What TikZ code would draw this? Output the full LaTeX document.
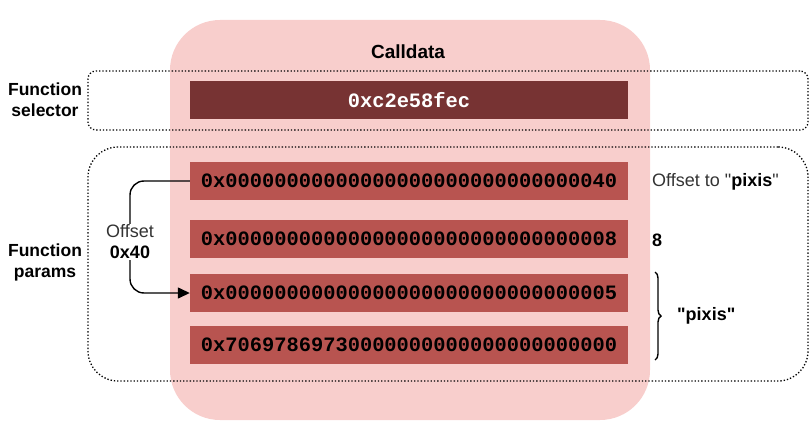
\documentclass[tikz,border=0pt]{standalone}
\usepackage{fontspec}
\setmainfont{Liberation Sans}
\newfontfamily\hexfont{Liberation Mono}
\usetikzlibrary{arrows.meta,decorations.pathreplacing}
\definecolor{calldatafill}{HTML}{F8CECC}
\definecolor{wordfill}{HTML}{B85450}
\definecolor{selfill}{HTML}{773333}
\definecolor{txtgray}{HTML}{333333}
\begin{document}
\begin{tikzpicture}[x=1pt,y=-1pt,
  word/.style={fill=wordfill, minimum width=438pt, minimum height=38pt, inner sep=0pt,
    font=\hexfont\bfseries\fontsize{20.4}{22}\selectfont},
  groupbox/.style={draw, dotted, line width=1.3pt},
  lbl/.style={font=\fontsize{17.5}{21}\selectfont\bfseries, align=center, inner sep=0pt},
  note/.style={font=\fontsize{18}{21}\selectfont, anchor=west, inner sep=0pt},
  conn/.style={line width=1.4pt, rounded corners=14pt, -{Triangle[length=12pt,width=11pt]}}
]
\useasboundingbox (0,0) rectangle (810,422);
% calldata background
\node[fill=calldatafill, rounded corners=50pt, minimum width=480pt, minimum height=400pt, inner sep=0pt] (calldata) at (410,220) {};
\node[font=\fontsize{19}{22}\selectfont\bfseries] (title) at (408,52) {Calldata};
% groups
\node[groupbox, rounded corners=8pt, minimum width=720pt, minimum height=59pt, inner sep=0pt] (selbox) at (448,100.5) {};
\node[groupbox, rounded corners=30pt, minimum width=720pt, minimum height=234pt, inner sep=0pt] (parbox) at (448,264) {};
\node[lbl] (sellbl) at (45,100) {Function\\selector};
\node[lbl] (parlbl) at (45,262) {Function\\params};
% selector
\node[word, fill=selfill, text=white] (sel) at (409,100.5) {0xc2e58fec};
% words
\node[word] (w1) at (409,181) {0x000000000000000000000000000000{}40};
\node[word] (w2) at (409,238.5) {0x000000000000000000000000000000{}08};
\node[word] (w3) at (409,293) {0x000000000000000000000000000000{}05};
\node[word] (w4) at (409,345) {0x7069786973{}0000000000000000000000};
% notes
\node[note, text=txtgray] (n1) at (652,182) {Offset to \textquotedbl\textcolor{black}{\bfseries pixis}\textquotedbl};
\node[note, font=\fontsize{18}{21}\selectfont\bfseries] (n2) at (652,240) {8};
% brace
\coordinate (btop) at (655,272);
\coordinate (bbot) at (655,360);
\draw[line width=1.4pt, decorate, decoration={brace, amplitude=6pt}] (btop) -- (bbot);
\node[note, font=\fontsize{18}{21}\selectfont\bfseries] (n3) at (677,316) {\textquotedbl pixis\textquotedbl};
% offset arrow
\coordinate (c1) at (130,181);
\coordinate (c2) at (130,293);
\draw[conn] (w1.west) -- (c1) -- (c2) -- (w3.west);
\node[fill=white, align=center, inner sep=1pt, font=\fontsize{18}{21}\selectfont, text=txtgray] (olbl) at (130,242) {Offset\\\textcolor{black}{\bfseries 0x40}};
\end{tikzpicture}
\end{document}
